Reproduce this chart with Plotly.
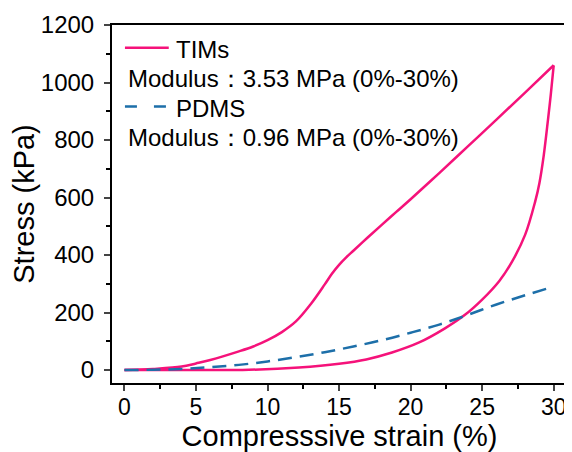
import plotly.graph_objects as go

# TIMs loading branch
tims_load_x = [0, 2, 4, 5, 6, 8, 9, 10, 11, 12, 13, 14, 14.5, 15, 15.5, 16, 17, 18, 19, 20, 22, 24, 26, 28, 30]
tims_load_y = [0, 4, 12, 23, 35, 65, 82, 104, 132, 170, 228, 298, 335, 366, 392, 415, 461, 506, 550, 594, 685, 778, 871, 965, 1060]
# TIMs unloading branch
tims_unload_x = [30, 29.8, 29.6, 29.3, 29.0, 28.7, 28.0, 27.1, 26.2, 25.0, 23.8, 22.4, 20.6, 18.7, 16.9, 15.0, 12.2, 8.7, 5, 0]
tims_unload_y = [1060, 960, 870, 745, 650, 585, 470, 378, 310, 245, 192, 145, 96, 61, 37, 22, 9, 1, 0, 0]
# PDMS
pdms_x = [0, 2, 4, 6, 8, 10, 12, 14, 16, 18, 20, 22, 24, 26, 28, 30]
pdms_y = [0, 1, 4, 10, 18, 30, 45, 62, 82, 104, 130, 158, 192, 228, 260, 290]

x_ticks = [0, 5, 10, 15, 20, 25, 30]
y_ticks = [0, 200, 400, 600, 800, 1000, 1200]

PINK = "#F5127A"
BLUE = "#1D6FA9"
FONT = "Liberation Sans, Arial, sans-serif"
OFF = 8  # page body margin offset


def px(x):
    return (x - 112) / 457


def py(y):
    return (383 - y) / 360


fig = go.Figure()
fig.add_trace(go.Scatter(x=tims_load_x, y=tims_load_y, mode="lines",
                         line=dict(color=PINK, width=2.5, shape="spline", smoothing=1.0),
                         showlegend=False))
fig.add_trace(go.Scatter(x=tims_unload_x, y=tims_unload_y, mode="lines",
                         line=dict(color=PINK, width=2.5, shape="spline", smoothing=1.0),
                         showlegend=False))
fig.add_trace(go.Scatter(x=pdms_x, y=pdms_y, mode="lines",
                         line=dict(color=BLUE, width=2.5, dash="14px,8px", shape="spline"),
                         showlegend=False))

# legend-like annotations
fig.add_shape(type="line", xref="paper", yref="paper", x0=px(125), x1=px(169), y0=py(46), y1=py(46),
              line=dict(color=PINK, width=2.5))
fig.add_shape(type="line", xref="paper", yref="paper", x0=px(125), x1=px(167), y0=py(105), y1=py(105),
              line=dict(color=BLUE, width=2.5, dash="12px,17px"))
texts = [("TIMs", 174, 47.5), ("Modulus：3.53 MPa (0%-30%)", 126, 77),
         ("PDMS", 174, 106.5), ("Modulus：0.96 MPa (0%-30%)", 126, 136)]
for t, x, y in texts:
    fig.add_annotation(text=t, xref="paper", yref="paper", x=px(x), y=py(y), xanchor="left", yanchor="middle",
                       showarrow=False, font=dict(family=FONT, size=24, color="black"))

fig.update_layout(
    width=572 - OFF, height=452 - OFF,
    margin=dict(l=112 - OFF, r=3, t=23 - OFF, b=452 - 383),
    plot_bgcolor="white", paper_bgcolor="white",
    font=dict(family=FONT, color="black"),
)
fig.update_xaxes(range=[-0.87, 30.93], tickvals=x_ticks, ticks="outside", ticklen=6, tickwidth=2,
                 showline=True, linecolor="black", linewidth=2, mirror=True, showgrid=False, zeroline=False,
                 tickfont=dict(size=23), ticklabelstandoff=-4,
                 title=dict(text="Compresssive strain (%)", font=dict(size=29), standoff=3),
                 minor=dict(tickvals=[2.5, 7.5, 12.5, 17.5, 22.5, 27.5], ticks="outside", ticklen=4, tickwidth=2, tickcolor="black"))
fig.update_yaxes(range=[-45, 1200], tickvals=y_ticks, ticks="outside", ticklen=6, tickwidth=2,
                 showline=True, linecolor="black", linewidth=2, mirror=True, showgrid=False, zeroline=False,
                 tickfont=dict(size=24), ticklabelstandoff=5,
                 title=dict(text="Stress (kPa)", font=dict(size=29), standoff=4),
                 minor=dict(tickvals=[100, 300, 500, 700, 900, 1100], ticks="outside", ticklen=4, tickwidth=2, tickcolor="black"))

fig.write_html("out.html")
